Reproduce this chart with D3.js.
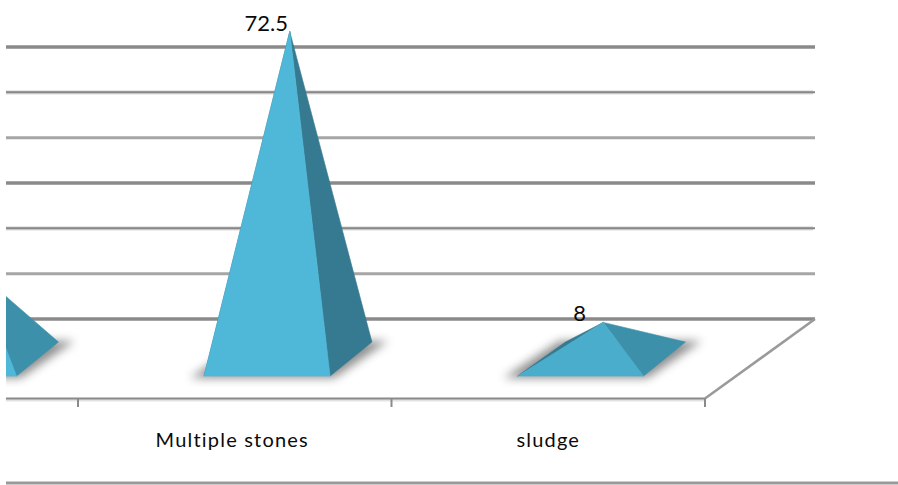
<!DOCTYPE html>
<html>
<head>
<meta charset="utf-8">
<script src="https://cdnjs.cloudflare.com/ajax/libs/d3/7.8.5/d3.min.js"></script>
<style>
html,body{margin:0;padding:0;background:#fff;}
svg{display:block;}
text{font-family:Lato,"Open Sans",sans-serif;fill:#0a0a0a;}
</style>
</head>
<body>
<svg id="chart" width="898" height="485"></svg>
<script>
// Stone types and their share, in percent
const categories = ["Single stone", "Multiple stones", "sludge"];
const values = [19.5, 72.5, 8];
const gridValues = [0, 10, 20, 30, 40, 50, 60];

const frontColors = ["#4fb8d8", "#4fb8d8", "#49adcb"];
const sideColors = ["#3d90a9", "#357a90", "#3d90a9"];

const svg = d3.select("#chart");
const defs = svg.append("defs");
const blur = (id, sd) => defs.append("filter").attr("id", id)
  .attr("x", "-40%").attr("y", "-100%").attr("width", "180%").attr("height", "300%")
  .append("feGaussianBlur").attr("stdDeviation", sd);
blur("soft", 5);
blur("tight", 1);
defs.append("clipPath").attr("id", "plotClip")
  .append("rect").attr("x", 6).attr("y", 0).attr("width", 892).attr("height", 485);

// Oblique floor: x runs along the front edge, depth pushes up and to the right
const frontY = 398.5;
const depthX = 110, depthY = -80;
const x = d3.scaleBand().domain(categories).range([-235.5, 705]);
const wall = d3.scaleLinear().domain([0, 60]).range([319, 47]);
const unit = 4.51;

function project(px, depth, value) {
  return [px + depth * depthX, frontY + depth * depthY - value * unit];
}

const plot = svg.append("g").attr("clip-path", "url(#plotClip)");

// Back wall gridlines: a repeating heavy, hairline-with-halo, pale sequence
const gridStyle = v => [
  { w: 3.4, c: "#8a8a8a", halo: false },
  { w: 3, c: "#a6a6a6", halo: false },
  { w: 2, c: "#868686", halo: true }
][(v / 10) % 3];

const grid = plot.append("g").selectAll("g").data(gridValues).join("g");
grid.filter(d => gridStyle(d).halo).append("line")
  .attr("x1", 0).attr("x2", 813).attr("y1", d => wall(d)).attr("y2", d => wall(d))
  .attr("stroke", "#dcdcdc").attr("stroke-width", 4.4);
grid.append("line")
  .attr("x1", 0).attr("x2", 815).attr("y1", d => wall(d)).attr("y2", d => wall(d))
  .attr("stroke", d => gridStyle(d).c).attr("stroke-width", d => gridStyle(d).w);

// Floor front edge, right-hand side edge and tick marks
const floor = plot.append("g").attr("fill", "none");
floor.append("line").attr("x1", 0).attr("x2", 705).attr("y1", frontY + 1.5).attr("y2", frontY + 1.5)
  .attr("stroke", "#e2e2e2").attr("stroke-width", 3);
floor.append("line").attr("x1", 0).attr("x2", 705).attr("y1", frontY).attr("y2", frontY)
  .attr("stroke", "#8a8a8a").attr("stroke-width", 2);
floor.append("line").attr("x1", 705).attr("y1", frontY).attr("x2", 815).attr("y2", 319)
  .attr("stroke", "#9a9a9a").attr("stroke-width", 2.6);
floor.selectAll("line.tick").data(categories).join("line").attr("class", "tick")
  .attr("x1", d => x(d) + x.bandwidth()).attr("x2", d => x(d) + x.bandwidth())
  .attr("y1", frontY).attr("y2", frontY + 8.5)
  .attr("stroke", "#8a8a8a").attr("stroke-width", 2);

// One pyramid per category: base footprint in floor depth, apex at the value
const frontDepth = 0.28, backDepth = 0.7063;
const frontHalf = 63, backRightHalf = 58, backLeftHalf = 62;
const line = d3.line();

const pyramids = plot.append("g").selectAll("g").data(categories).join("g");
pyramids.each(function (cat, i) {
  const g = d3.select(this);
  const c = x(cat) + x.bandwidth() / 2;
  const fl = project(c + 1.5 - frontHalf, frontDepth, 0);
  const fr = project(c + 1.5 + frontHalf, frontDepth, 0);
  const br = project(c + 1.5 + backRightHalf, backDepth, 0);
  const bl = project(c + 1.5 - backLeftHalf, backDepth, 0);
  const apex = project(c, 0.5, values[i]);

  // Soft cast shadow on the floor, with a tighter contact line along the front
  g.append("path")
    .attr("d", line([[fl[0] - 14, fl[1] + 2], [bl[0] - 6, bl[1] - 1], [br[0] + 16, br[1] - 1], [fr[0] + 4, fr[1] + 2]]) + "Z")
    .attr("fill", "#555").attr("opacity", 0.66).attr("filter", "url(#soft)");
  g.append("line")
    .attr("x1", fl[0] - 6).attr("x2", fr[0] + 2).attr("y1", fl[1] + 1.5).attr("y2", fl[1] + 1.5)
    .attr("stroke", "#8c8c8c").attr("stroke-width", 3).attr("filter", "url(#tight)");

  const face = (pts, color) => g.append("path").attr("d", line(pts) + "Z")
    .attr("fill", color).attr("stroke", color).attr("stroke-width", 0.6);
  face([fl, bl, apex], "#357a90");
  face([fr, br, apex], sideColors[i]);
  face([fl, fr, apex], frontColors[i]);

  // Value label sits up and to the left of the apex, when it lands on the canvas
  if (apex[0] - 23.5 > 6) {
    g.append("text").attr("x", apex[0] - 23.5).attr("y", apex[1] - 1)
      .attr("text-anchor", "middle").attr("font-size", 22).text(values[i]);
  }
});

// Category labels under the floor, for bands whose centre is on the canvas
const labelNudge = { "Multiple stones": -2.5, "sludge": 0 };
plot.append("g").selectAll("text").data(categories.filter(d => x(d) + x.bandwidth() / 2 > 6)).join("text")
  .attr("x", d => x(d) + x.bandwidth() / 2 + labelNudge[d])
  .attr("y", 447).attr("text-anchor", "middle").attr("font-size", 20).attr("letter-spacing", 1.2)
  .text(d => d);

// Rule closing the chart at the bottom
plot.append("line").attr("x1", 0).attr("x2", 898).attr("y1", 483).attr("y2", 483)
  .attr("stroke", "#999").attr("stroke-width", 3);
</script>
</body>
</html>
